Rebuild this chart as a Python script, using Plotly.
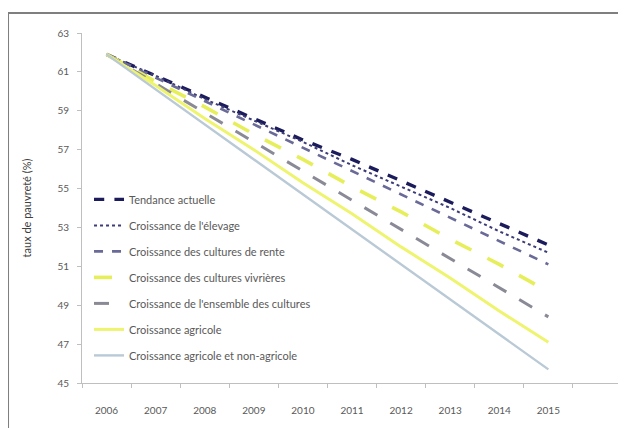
import plotly.graph_objects as go

years = [2006, 2007, 2008, 2009, 2010, 2011, 2012, 2013, 2014, 2015]

tendance_actuelle = [61.9, 60.8, 59.7, 58.6, 57.5, 56.5, 55.4, 54.3, 53.2, 52.1]
croissance_elevage = [61.9, 60.8, 59.6, 58.5, 57.4, 56.2, 55.1, 54.0, 52.8, 51.7]
cultures_rente = [61.9, 60.7, 59.5, 58.3, 57.1, 55.9, 54.7, 53.5, 52.3, 51.1]
cultures_vivrieres = [61.9, 60.5, 59.2, 57.8, 56.5, 55.1, 53.8, 52.4, 51.1, 49.7]
ensemble_cultures = [61.9, 60.4, 58.9, 57.4, 55.9, 54.4, 52.9, 51.4, 49.9, 48.4]
croissance_agricole = [61.9, 60.3, 58.6, 57.0, 55.3, 53.7, 52.0, 50.4, 48.7, 47.1]
agricole_non_agricole = [61.9, 60.1, 58.3, 56.5, 54.7, 52.9, 51.1, 49.3, 47.5, 45.7]

series = [
    ("Tendance actuelle", tendance_actuelle, "#1c1c5c", 3.4, "dash"),
    ("Croissance de l'élevage", croissance_elevage, "#3c3c78", 2.0, "dot"),
    ("Croissance des cultures de rente", cultures_rente, "#6a6a98", 2.6, "dash"),
    ("Croissance des cultures vivrières", cultures_vivrieres, "#e6ee5a", 3.6, "longdash"),
    ("Croissance de l'ensemble des cultures", ensemble_cultures, "#8a8a96", 3.0, "longdash"),
    ("Croissance agricole", croissance_agricole, "#eef46e", 3.0, "solid"),
    ("Croissance agricole et non-agricole", agricole_non_agricole, "#b9c9d6", 2.4, "solid"),
]

font_family = "Lato, Liberation Sans, sans-serif"

fig = go.Figure()
for i, (name, vals, color, width, dash) in enumerate(series):
    fig.add_trace(go.Scatter(
        x=years, y=vals, mode="lines", name=name,
        legendgroup=f"g{i}",
        line=dict(color=color, width=width, dash=dash),
    ))

fig.update_layout(
    width=618, height=420,
    margin=dict(l=74, r=4, t=25, b=45),
    paper_bgcolor="white", plot_bgcolor="white",
    font=dict(family=font_family, size=11, color="#595959"),
    showlegend=True,
    legend=dict(
        x=0.013, y=0.566, xanchor="left", yanchor="top",
        bgcolor="rgba(0,0,0,0)", borderwidth=0,
        tracegroupgap=7,
        font=dict(family=font_family, size=11, color="#595959"),
    ),
    xaxis=dict(
        range=[2005.5, 2016.5],
        tickvals=years, ticktext=[str(y) for y in years],
        ticks="", showgrid=False, zeroline=False,
        showline=True, linecolor="#bfbfbf", linewidth=1,
        ticklabelstandoff=18,
        tickfont=dict(size=10, color="#595959"),
        minor=dict(tick0=2005.5, dtick=1, ticks="outside", ticklen=4,
                   tickcolor="#bfbfbf", showgrid=False),
    ),
    yaxis=dict(
        range=[45, 63], dtick=2, tick0=45,
        ticks="outside", ticklen=4, tickcolor="#bfbfbf",
        showgrid=False, zeroline=False,
        showline=True, linecolor="#bfbfbf", linewidth=1,
        ticklabelstandoff=6,
        tickfont=dict(size=10, color="#595959"),
        title=dict(text="taux de pauvreté (%)", standoff=23,
                   font=dict(size=11, color="#404040")),
    ),
    shapes=[dict(type="rect", xref="paper", yref="paper",
                 x0=-0.137, x1=1.2, y0=-0.3, y1=1.057,
                 line=dict(color="#7f7f7f", width=2), layer="below")],
)

fig.write_html("out.html")
